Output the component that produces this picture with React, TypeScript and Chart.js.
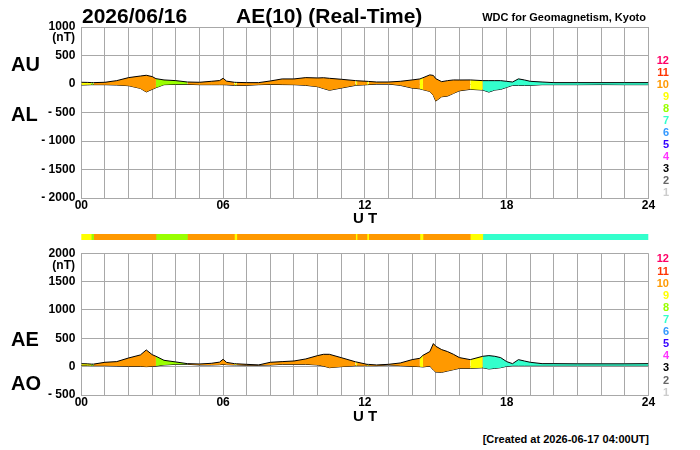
import React, { useEffect, useRef } from 'react';
import { Chart, ChartConfiguration, registerables } from 'chart.js';

Chart.register(...registerables);

// UT hour of each sample
const hours = [
    0, 0.25, 0.42, 0.52, 1, 1.5, 2, 2.5, 2.75, 3, 3.16, 3.5, 4, 4.49, 5, 5.5,
    5.85, 6, 6.15, 6.48, 6.58, 7, 7.5, 8, 8.5, 9, 9.5, 10, 10.25, 10.5, 11,
    11.61, 11.67, 12.09, 12.16, 12.5, 13, 13.5, 14, 14.33, 14.46, 14.75, 14.9,
    15, 15.25, 15.5, 15.75, 16, 16.46, 16.99, 17.25, 17.5, 17.75, 18, 18.25,
    18.5, 18.75, 19, 19.5, 20, 21, 22, 23, 24,
];

// AU / AL (nT)
const auValues = [
    30, 28, 25, 24, 30, 59, 112, 140, 153, 130, 94, 71, 59, 35, 30, 47,
    60, 100, 50, 30, 28, 24, 24, 53, 89, 89, 112, 106, 110, 100, 83,
    59, 57, 47, 45, 35, 35, 47, 71, 89, 110, 160, 150,
    94, 41, 59, 71, 70, 71, 59, 59, 59, 59, 47, 35,
    90, 71, 47, 35, 24, 24, 24, 24, 24,
];
const alValues = [
    -18, -15, -12, -12, -12, -18, -30, -77, -140, -94, -65, -12, -6, -6, -12, -12,
    -12, -12, -15, -24, -24, -24, -12, -6, -10, -12, -24, -47, -80, -110, -71,
    -24, -22, -12, -10, 0, 0, -24, -71, -85, -100, -130, -200,
    -300, -224, -212, -165, -120, -94, -106, -142, -106, -94, -59, -24,
    -24, -24, -24, -12, -12, -12, -10, -12, -12,
];

// AE / AO (nT)
const aeValues = [
    53, 50, 45, 45, 77, 89, 153, 207, 295, 212, 183, 112, 83, 53, 47, 59,
    80, 130, 75, 53, 50, 41, 30, 77, 89, 100, 136, 195, 218, 218, 159,
    85, 80, 41, 40, 30, 41, 65, 124, 148, 200, 266, 407,
    360, 301, 266, 218, 160, 124, 183, 195, 183, 159, 89, 53,
    124, 100, 77, 53, 53, 50, 50, 50, 53,
];
const aoValues = [
    20, 20, 18, 18, 18, 12, 6, 6, 0, 6, 10, 30, 41, 41, 30, 30,
    35, 41, 35, 30, 30, 24, 24, 30, 41, 41, 41, 30, 10, -18, 0,
    18, 18, 18, 18, 18, 30, 18, 6, 0, -5, 10, -60,
    -95, -100, -77, -53, -30, -30, -20, -41, -30, -18, 6, 18,
    18, 18, 18, 18, 18, 18, 18, 18, 18,
];

// number of contributing stations, by start hour
const segStart = [0, 0.42, 0.52, 3.16, 4.49, 6.48, 6.58, 11.61, 11.67, 12.09, 12.16, 14.33, 14.46, 16.46, 16.99];
const segStations = [9, 8, 10, 8, 10, 9, 10, 9, 10, 9, 10, 9, 10, 9, 7];

const stationLevels = [12, 11, 10, 9, 8, 7, 6, 5, 4, 3, 2, 1];
const stationColors: Record<number, string> = {
    1: '#cccccc', 2: '#666666', 3: '#000000', 4: '#ff33ff', 5: '#3300ff', 6: '#3399ff',
    7: '#33ffcc', 8: '#99ff00', 9: '#ffff00', 10: '#ff9900', 11: '#ff3300', 12: '#ff0066',
};

const xTickHours = [0, 6, 12, 18, 24];

const FONT = '"Liberation Sans", Arial, Helvetica, sans-serif';
const GRID = '#a8a8a8';
const PLOT_LEFT = 81.3;
const PLOT_RIGHT = 648.4;

const stationsAt = (h: number) => {
    let n = segStations[0];
    for (let i = 0; i < segStart.length; i++) {
        if (h >= segStart[i] - 1e-6) n = segStations[i];
    }
    return n;
};

interface PanelProps {
    upper: number[];
    lower: number[];
    min: number;
    max: number;
    top: number;
    height: number;
    plotTop: number;
    plotBottom: number;
}

const GeoPanel: React.FC<PanelProps> = ({ upper, lower, min, max, top, height, plotTop, plotBottom }) => {
    const canvasRef = useRef<HTMLCanvasElement>(null);

    useEffect(() => {
        const ctx = canvasRef.current?.getContext('2d');
        if (!ctx) return;

        const tickFont = { family: FONT, size: 12, weight: 'bold' as const };

        const config: ChartConfiguration = {
            type: 'line',
            data: {
                datasets: [
                    {
                        data: hours.map((h, i) => ({ x: h, y: upper[i] })),
                        borderColor: '#000',
                        borderWidth: 1,
                        pointRadius: 0,
                        fill: '+1',
                        backgroundColor: stationColors[10],
                        segment: {
                            backgroundColor: (c: any) => stationColors[stationsAt(hours[c.p0DataIndex])],
                        },
                    } as any,
                    {
                        data: hours.map((h, i) => ({ x: h, y: lower[i] })),
                        borderColor: '#000',
                        borderWidth: 1,
                        pointRadius: 0,
                        fill: false,
                    },
                ],
            },
            options: {
                responsive: false,
                animation: false,
                layout: { padding: { left: 0, right: 700 - PLOT_RIGHT, top: plotTop, bottom: 0 } },
                plugins: {
                    legend: { display: false },
                    tooltip: { enabled: false },
                },
                scales: {
                    x: {
                        type: 'linear',
                        min: 0,
                        max: 24,
                        afterFit: (s: any) => { s.height = height - plotBottom; },
                        grid: { color: GRID, drawTicks: false },
                        border: { color: GRID },
                        ticks: {
                            stepSize: 1,
                            autoSkip: false,
                            maxRotation: 0,
                            padding: 0,
                            color: '#000',
                            font: tickFont,
                            callback: (v: any) => xTickHours.includes(Number(v)) ? String(v).padStart(2, '0') : '',
                        },
                    },
                    y: {
                        min,
                        max,
                        afterFit: (s: any) => { s.width = PLOT_LEFT; },
                        grid: { color: GRID, drawTicks: false },
                        border: { color: GRID },
                        ticks: {
                            stepSize: 500,
                            padding: 6,
                            color: '#000',
                            font: tickFont,
                            callback: (v: any) => Number(v) < 0 ? '- ' + Math.abs(Number(v)) : String(v),
                        },
                    },
                } as any,
            },
        };

        const chart = new Chart(ctx, config);
        return () => chart.destroy();
    }, [upper, lower, min, max, height, plotTop, plotBottom]);

    return (
        <canvas
            ref={canvasRef}
            width={700}
            height={height}
            style={{ position: 'absolute', left: 0, top, width: 700, height }}
        />
    );
};

const StationBar: React.FC<{ top: number; height: number }> = ({ top, height }) => {
    const canvasRef = useRef<HTMLCanvasElement>(null);

    useEffect(() => {
        const ctx = canvasRef.current?.getContext('2d');
        if (!ctx) return;

        const config: ChartConfiguration = {
            type: 'bar',
            data: {
                labels: [''],
                datasets: segStart.map((s, i) => ({
                    data: [[s, i + 1 < segStart.length ? segStart[i + 1] : 24]],
                    backgroundColor: stationColors[segStations[i]],
                    borderWidth: 0,
                    barPercentage: 1,
                    categoryPercentage: 1,
                    grouped: false,
                })) as any,
            },
            options: {
                indexAxis: 'y',
                responsive: false,
                animation: false,
                layout: { padding: { left: PLOT_LEFT, right: 700 - PLOT_RIGHT, top: 0, bottom: 0 } },
                plugins: {
                    legend: { display: false },
                    tooltip: { enabled: false },
                },
                scales: {
                    x: { type: 'linear', min: 0, max: 24, display: false },
                    y: { display: false },
                },
            },
        };

        const chart = new Chart(ctx, config);
        return () => chart.destroy();
    }, [top, height]);

    return (
        <canvas
            ref={canvasRef}
            width={700}
            height={height}
            style={{ position: 'absolute', left: 0, top, width: 700, height }}
        />
    );
};

interface TxtProps {
    x: number;
    y: number; // baseline
    size: number;
    align?: 'left' | 'right' | 'center';
    color?: string;
    children: React.ReactNode;
}

const Txt: React.FC<TxtProps> = ({ x, y, size, align = 'left', color = '#000', children }) => {
    const style: React.CSSProperties = {
        position: 'absolute',
        top: y - 0.8465 * size,
        fontFamily: FONT,
        fontWeight: 'bold',
        fontSize: size,
        lineHeight: 1,
        whiteSpace: 'pre',
        color,
    };
    if (align === 'right') style.right = 700 - x;
    else if (align === 'center') { style.left = x; style.transform = 'translateX(-50%)'; }
    else style.left = x;
    return <div style={style}>{children}</div>;
};

export default function App() {
    return (
        <div style={{ position: 'absolute', left: 0, top: 0, width: 700, height: 450, background: '#fff', overflow: 'hidden' }}>
            <GeoPanel upper={auValues} lower={alValues} min={-2000} max={1000} top={0} height={226} plotTop={27} plotBottom={198} />
            <StationBar top={234} height={6} />
            <GeoPanel upper={aeValues} lower={aoValues} min={-500} max={2000} top={240} height={185} plotTop={13.3} plotBottom={155} />

            <Txt x={82} y={22.7} size={21}>2026/06/16</Txt>
            <Txt x={236} y={22.7} size={21}>AE(10) (Real-Time)</Txt>
            <Txt x={646} y={21} size={11} align="right">WDC for Geomagnetism, Kyoto</Txt>

            <Txt x={11} y={70.7} size={20}>AU</Txt>
            <Txt x={11} y={120.7} size={20}>AL</Txt>
            <Txt x={11} y={346} size={20}>AE</Txt>
            <Txt x={11} y={389.5} size={20}>AO</Txt>

            <Txt x={75} y={41.5} size={12} align="right">(nT)</Txt>
            <Txt x={75} y={269.5} size={12} align="right">(nT)</Txt>

            <Txt x={365} y={223} size={15} align="center">U T</Txt>
            <Txt x={365} y={421} size={15} align="center">U T</Txt>

            {stationLevels.map((n, i) => (
                <Txt key={'a' + n} x={669} y={64.7 + i * 12} size={11} align="right" color={stationColors[n]}>{n}</Txt>
            ))}
            {stationLevels.map((n, i) => (
                <Txt key={'b' + n} x={669} y={262.7 + i * 12.12} size={11} align="right" color={stationColors[n]}>{n}</Txt>
            ))}

            <Txt x={649} y={443.3} size={11} align="right">[Created at 2026-06-17 04:00UT]</Txt>
        </div>
    );
}
